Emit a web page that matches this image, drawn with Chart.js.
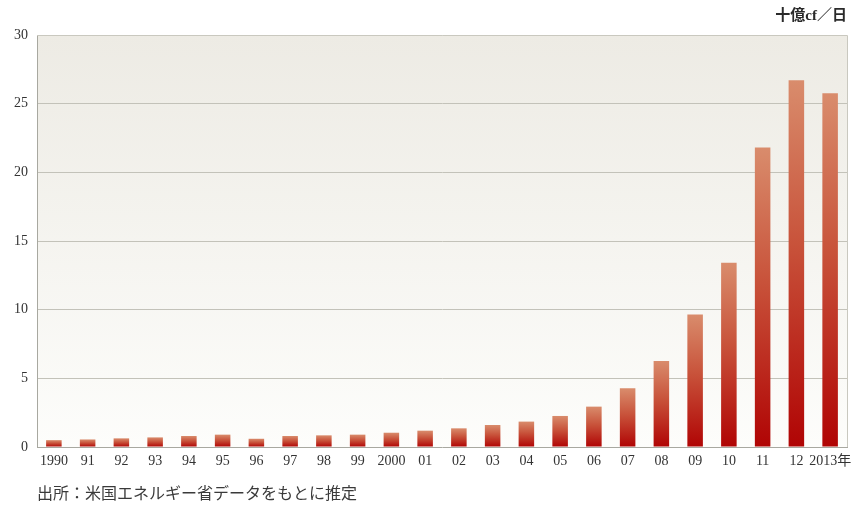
<!DOCTYPE html>
<html>
<head>
<meta charset="utf-8">
<script src="https://cdn.jsdelivr.net/npm/chart.js@4.4.1/dist/chart.umd.min.js"></script>
<style>
  html, body { margin: 0; padding: 0; background: #ffffff; }
  #wrap { width: 861px; height: 506px; position: relative; }
</style>
</head>
<body>
<div id="wrap"><canvas id="c" width="861" height="506"></canvas></div>
<script>
// Annual production, billion cubic feet per day
const years = ['1990','91','92','93','94','95','96','97','98','99','2000','01','02','03','04','05','06','07','08','09','10','11','12','2013年'];
const production = [0.5, 0.55, 0.63, 0.7, 0.8, 0.9, 0.6, 0.8, 0.85, 0.9, 1.04, 1.19, 1.36, 1.6, 1.85, 2.26, 2.94, 4.27, 6.26, 9.64, 13.42, 21.8, 26.7, 25.76];
const yTicks = [0, 5, 10, 15, 20, 25, 30];
const unitLabel = '十億cf／日';
const sourceNote = '出所：米国エネルギー省データをもとに推定';

const serif = '"Liberation Serif", "DejaVu Serif", "Noto Sans CJK JP", serif';

// Vertical gradient per bar: pale salmon at the top, deep red at the base
function barFill(ctx) {
  const chart = ctx.chart;
  const area = chart.chartArea;
  if (!area || ctx.parsed === undefined) return '#b80e0e';
  const y = chart.scales.y;
  const top = y.getPixelForValue(ctx.parsed.y);
  const bottom = y.getPixelForValue(0);
  if (!(bottom > top)) return '#b80e0e';
  const g = chart.ctx.createLinearGradient(0, top, 0, bottom);
  g.addColorStop(0, '#d98c6c');
  g.addColorStop(0.45, '#c8523a');
  g.addColorStop(1, '#b00404');
  return g;
}

// Plot background and frame
const backdrop = {
  id: 'backdrop',
  beforeDraw(chart) {
    const { ctx, chartArea: a } = chart;
    ctx.save();
    const g = ctx.createLinearGradient(0, a.top, 0, a.bottom);
    g.addColorStop(0, '#edebe4');
    g.addColorStop(1, '#fdfdfb');
    ctx.fillStyle = g;
    ctx.fillRect(a.left, a.top, a.right - a.left, a.bottom - a.top);
    ctx.restore();
  },
  afterDatasetsDraw(chart) {
    const { ctx, chartArea: a } = chart;
    ctx.save();
    ctx.strokeStyle = '#c9c8bf';
    ctx.lineWidth = 1;
    ctx.beginPath();
    ctx.moveTo(a.left, a.top + 0.5);
    ctx.lineTo(a.right + 0.5, a.top + 0.5);
    ctx.lineTo(a.right + 0.5, a.bottom);
    ctx.stroke();
    ctx.restore();
  },
  afterDraw(chart) {
    const { ctx, chartArea: a } = chart;
    ctx.save();
    ctx.fillStyle = '#2a2a2a';
    ctx.font = 'bold 15px ' + serif;
    ctx.textAlign = 'right';
    ctx.textBaseline = 'middle';
    ctx.fillText(unitLabel, a.right, 16);
    ctx.font = '16px "Noto Sans CJK JP", ' + serif;
    ctx.fillStyle = '#3a3a3a';
    ctx.textAlign = 'left';
    ctx.fillText(sourceNote, a.left, 493);
    ctx.restore();
  }
};

new Chart(document.getElementById('c'), {
  type: 'bar',
  data: {
    labels: years,
    datasets: [{
      data: production,
      backgroundColor: barFill,
      borderWidth: 0,
      barPercentage: 0.46,
      categoryPercentage: 1.0
    }]
  },
  options: {
    responsive: false,
    animation: false,
    devicePixelRatio: 1,
    layout: { padding: { top: 35, right: 14, left: 0, bottom: 0 } },
    plugins: { legend: { display: false }, tooltip: { enabled: false } },
    scales: {
      x: {
        offset: true,
        grid: { display: false, drawTicks: false },
        border: { display: true, color: '#a8a8a0', width: 1 },
        ticks: {
          autoSkip: false, maxRotation: 0, minRotation: 0, padding: 6,
          color: '#333333', font: { family: serif, size: 14 }
        },
        afterFit(s) { s.height = 59; }
      },
      y: {
        min: 0, max: 30,
        afterBuildTicks(s) { s.ticks = yTicks.map(v => ({ value: v })); },
        grid: {
          color: (c) => (c.tick && (c.tick.value === 0 || c.tick.value === 30)) ? 'rgba(0,0,0,0)' : '#c3c2b9',
          drawTicks: false, lineWidth: 1
        },
        border: { display: true, color: '#a8a8a0', width: 1 },
        ticks: {
          padding: 9, color: '#333333', font: { family: serif, size: 14 }
        },
        afterFit(s) { s.width = 37; }
      }
    }
  },
  plugins: [backdrop]
});
</script>
</body>
</html>
